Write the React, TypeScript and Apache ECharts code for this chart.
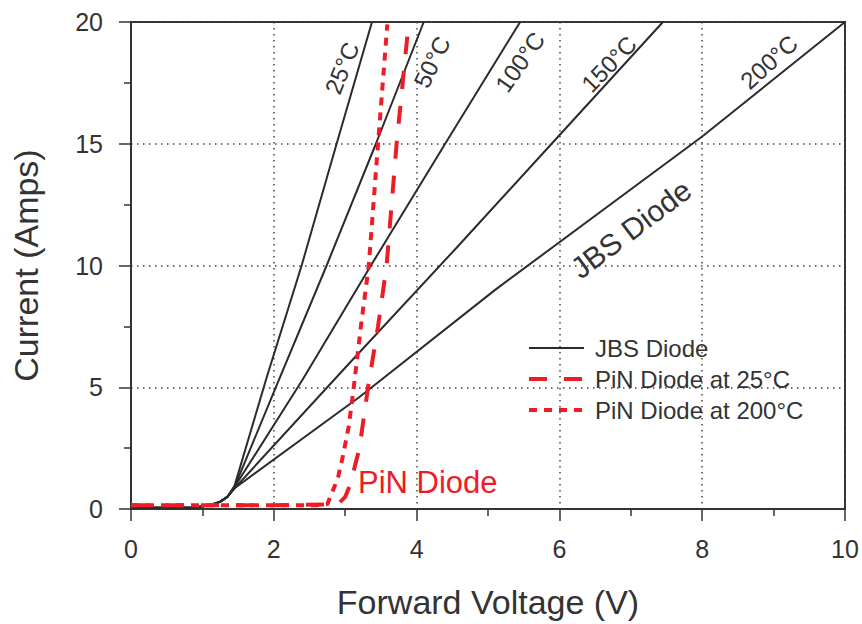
import React, { useEffect, useRef } from "react";
import * as echarts from "echarts";

const FONT = "'Liberation Sans', Arial, Helvetica, sans-serif";

// Shared low-current part of every JBS curve (V, A)
const jbsLowV = [0, 0.5, 0.9, 1.1, 1.25, 1.35];
const jbsLowI = [0.05, 0.05, 0.06, 0.15, 0.3, 0.5];

// JBS diode, one curve per temperature
const jbs25V = [1.45, 1.9, 2.39, 2.88, 3.375];
const jbs25I = [0.95, 5.4, 10, 15, 20];
const jbs50V = [1.45, 2.0, 2.74, 3.43, 4.1];
const jbs50I = [0.9, 4.8, 10, 15, 20];
const jbs100V = [1.45, 2.4, 3.36, 4.4, 5.45];
const jbs100I = [0.9, 5.3, 10, 15, 20];
const jbs150V = [1.45, 3.0, 4.55, 6.0, 7.45];
const jbs150I = [0.85, 5.8, 10.7, 15.35, 20];
const jbs200V = [1.45, 3.2, 5.1, 8.0, 10];
const jbs200I = [0.85, 4.6, 9.0, 15.3, 20];

// PiN diode at 25°C
const pin25V = [0, 1, 2, 2.9, 3.0, 3.07, 3.2, 3.32, 3.46, 3.58, 3.72, 3.87];
const pin25I = [0.15, 0.15, 0.15, 0.2, 0.5, 1.0, 2.5, 5, 7.5, 10, 15, 19.4];

// PiN diode at 200°C
const pin200V = [0, 1, 2, 2.6, 2.75, 2.82, 2.9, 2.97, 3.05, 3.12, 3.22, 3.33, 3.46, 3.59];
const pin200I = [0.15, 0.15, 0.15, 0.15, 0.2, 0.7, 1.3, 2.2, 3.4, 5, 7.5, 10, 15, 19.9];

const legendNames = ["JBS Diode", "PiN Diode at 25°C", "PiN Diode at 200°C"];
const tempLabels = ["25°C", "50°C", "100°C", "150°C", "200°C"];

const zip = (v: number[], i: number[]) => v.map((x, k) => [x, i[k]]);

export default function App() {
  const ref = useRef<HTMLDivElement>(null);
  useEffect(() => {
    if (!ref.current) return;
    const chart = echarts.init(ref.current, undefined, { renderer: "svg" });
    const low = zip(jbsLowV, jbsLowI);
    const jbsCurves = [
      zip(jbs25V, jbs25I),
      zip(jbs50V, jbs50I),
      zip(jbs100V, jbs100I),
      zip(jbs150V, jbs150I),
      zip(jbs200V, jbs200I),
    ];
    const dark = "#2b2b2b";
    const red = "#ee1c25";
    const longDash = [18, 17];
    const shortDash = [8, 7];
    const jbsSeries = jbsCurves.map((c) => ({
      name: legendNames[0],
      type: "line",
      data: [...low, ...c],
      symbol: "none",
      color: dark,
      lineStyle: { color: dark, width: 2 },
      z: 3,
    }));
    const textColor = "#333";
    const tempPos = [
      [342, 68, 68],
      [432, 62, 64],
      [520, 62, 55],
      [609, 64, 46],
      [769, 62, 42],
    ];
    const graphics: any[] = tempLabels.map((t, k) => ({
      type: "text",
      x: tempPos[k][0],
      y: tempPos[k][1],
      rotation: (tempPos[k][2] * Math.PI) / 180,
      style: {
        text: t,
        fontSize: 24,
        fontFamily: FONT,
        fill: textColor,
        align: "center",
        verticalAlign: "middle",
      },
      z: 10,
    }));
    graphics.push({
      type: "text",
      x: 631,
      y: 229,
      rotation: (37 * Math.PI) / 180,
      style: {
        text: "JBS Diode",
        fontSize: 30,
        fontFamily: FONT,
        fill: textColor,
        align: "center",
        verticalAlign: "middle",
      },
      z: 10,
    });
    graphics.push({
      type: "text",
      x: 358,
      y: 482,
      style: {
        text: "PiN Diode",
        fontSize: 31,
        fontFamily: FONT,
        fill: red,
        align: "left",
        verticalAlign: "middle",
      },
      z: 10,
    });

    const axisCommon = {
      type: "value",
      axisLine: { show: true, onZero: false, lineStyle: { color: textColor, width: 2 } },
      axisTick: { show: true, inside: false, length: 12, lineStyle: { color: textColor, width: 1.5 } },
      minorTick: { show: true, splitNumber: 2, length: 7, lineStyle: { color: textColor, width: 1.5 } },
      splitLine: { show: true, lineStyle: { color: "#444", width: 1.5, type: [1.5, 4.5] } },
      nameTextStyle: { fontSize: 34, fontFamily: FONT, color: textColor },
    };

    chart.setOption({
      animation: false,
      backgroundColor: "#fff",
      textStyle: { fontFamily: FONT },
      grid: {
        left: 131,
        right: 17,
        top: 22,
        bottom: 114,
        show: true,
        borderColor: textColor,
        borderWidth: 2,
        containLabel: false,
      },
      legend: {
        data: [
          { name: legendNames[0], itemStyle: { opacity: 0 }, lineStyle: { width: 2, color: dark, type: "solid" } },
          { name: legendNames[1], itemStyle: { opacity: 0 }, lineStyle: { width: 4, color: red, type: longDash } },
          { name: legendNames[2], itemStyle: { opacity: 0 }, lineStyle: { width: 4, color: red, type: shortDash } },
        ],
        orient: "vertical",
        left: 522,
        top: 331,
        itemWidth: 55,
        itemHeight: 14,
        itemGap: 7,
        textStyle: {
          fontSize: 24,
          fontFamily: FONT,
          color: textColor,
          lineHeight: 24,
          padding: [0, 0, 0, 6],
        },
      },
      xAxis: {
        ...axisCommon,
        min: 0,
        max: 10,
        interval: 2,
        name: "Forward Voltage (V)",
        nameLocation: "middle",
        nameGap: 76,
        axisLabel: { fontSize: 25, fontFamily: FONT, color: textColor, margin: 27 },
      },
      yAxis: {
        ...axisCommon,
        min: 0,
        max: 20,
        interval: 5,
        name: "Current (Amps)",
        nameLocation: "middle",
        nameGap: 88,
        axisLabel: { fontSize: 25, fontFamily: FONT, color: textColor, margin: 28 },
      },
      series: [
        ...jbsSeries,
        {
          name: legendNames[1],
          type: "line",
          data: zip(pin25V, pin25I),
          symbol: "none",
          color: red,
          lineStyle: { color: red, width: 4, type: longDash },
          z: 4,
        },
        {
          name: legendNames[2],
          type: "line",
          data: zip(pin200V, pin200I),
          symbol: "none",
          color: red,
          lineStyle: { color: red, width: 4, type: shortDash },
          z: 4,
        },
      ],
      graphic: graphics,
    });
    return () => chart.dispose();
  }, []);
  return (
    <div
      ref={ref}
      style={{ position: "fixed", left: 0, top: 0, width: 862, height: 624, background: "#fff" }}
    />
  );
}
